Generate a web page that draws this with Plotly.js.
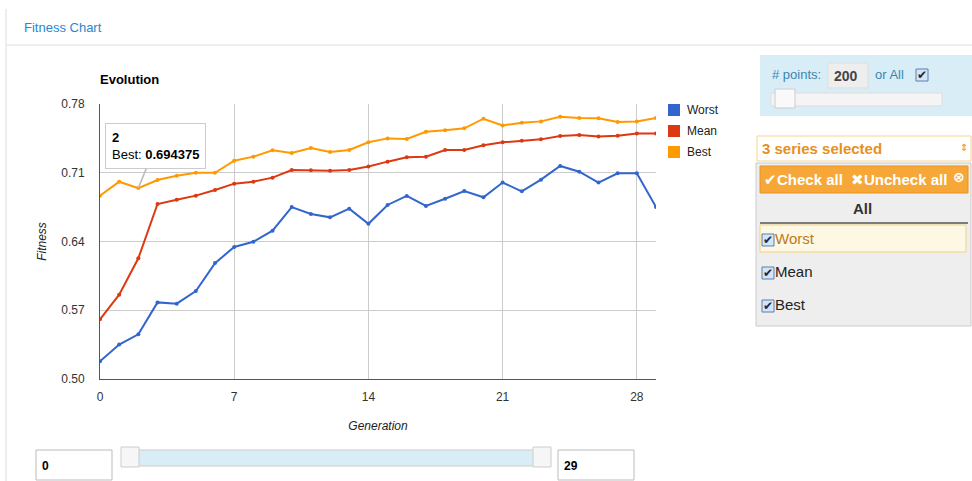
<!DOCTYPE html>
<html>
<head>
<meta charset="utf-8">
<script src="https://cdn.plot.ly/plotly-3.0.1.min.js"></script>
<style>
html,body{margin:0;padding:0;background:#fff;}
#chart{width:972px;height:481px;}
</style>
</head>
<body>
<div id="chart"></div>
<script>
// ---- data ----
const generations = [0,1,2,3,4,5,6,7,8,9,10,11,12,13,14,15,16,17,18,19,20,21,22,23,24,25,26,27,28,29];
const worst = [0.518,0.535,0.5455,0.578,0.5767,0.5896,0.618,0.6344,0.6398,0.651,0.675,0.668,0.6646,0.6734,0.658,0.6772,0.6864,0.6762,0.6835,0.6914,0.685,0.700,0.6911,0.703,0.7169,0.7111,0.700,0.7094,0.7094,0.675];
const mean = [0.5608,0.5859,0.6229,0.6782,0.6826,0.6867,0.6925,0.6989,0.7009,0.705,0.7128,0.7125,0.712,0.7128,0.7163,0.7213,0.7257,0.7264,0.7332,0.7332,0.7379,0.741,0.7427,0.744,0.7475,0.7485,0.7468,0.7478,0.750,0.750];
const best = [0.6867,0.7009,0.694375,0.7026,0.707,0.710,0.710,0.7223,0.7264,0.7328,0.7301,0.7352,0.7312,0.7332,0.741,0.745,0.7444,0.7518,0.7532,0.7552,0.765,0.7582,0.761,0.7623,0.767,0.7658,0.7655,0.7617,0.7623,0.7658];
const seriesNames = ["Worst","Mean","Best"];
const xTicks = [0,7,14,21,28];
const yTicks = [0.50,0.57,0.64,0.71,0.78];
const yTickLabels = ["0.50","0.57","0.64","0.71","0.78"];
const tipIndex = 2;
const pointsValue = "200";
const rangeLow = "0";
const rangeHigh = "29";

// ---- styling ----
const colors = ["#3366cc","#dc3912","#ff9900"];
const W = 972, H = 481;
const px = x => x / W;
const py = y => 1 - y / H;
const FONT = "Liberation Sans, Arial, sans-serif";
const UIFONT = "Liberation Sans, Arial, sans-serif";
const SYMFONT = "DejaVu Sans, sans-serif";

const seriesData = [worst, mean, best];
const traces = seriesData.map((vals, i) => ({
  type: "scatter", mode: "lines+markers",
  x: generations, y: vals, name: seriesNames[i],
  line: {color: colors[i], width: 2},
  marker: {color: colors[i], size: 4},
  showlegend: false, hoverinfo: "skip"
}));

const shapes = [];
const ann = [];
function rect(x0,y0,x1,y1,fill,line,lw){
  shapes.push({type:"rect", xref:"paper", yref:"paper", x0:px(x0), x1:px(x1), y0:py(y1), y1:py(y0),
    fillcolor:fill, line:{color:line||"rgba(0,0,0,0)", width: lw===undefined?1:lw}, layer:"above"});
}
function hline(x0,x1,y,color,w){
  shapes.push({type:"line", xref:"paper", yref:"paper", x0:px(x0), x1:px(x1), y0:py(y), y1:py(y), line:{color:color,width:w||1}, layer:"above"});
}
function vline(x,y0,y1,color,w){
  shapes.push({type:"line", xref:"paper", yref:"paper", x0:px(x), x1:px(x), y0:py(y0), y1:py(y1), line:{color:color,width:w||1}, layer:"above"});
}
function text(x,y,t,opts){
  opts = opts||{};
  ann.push({xref:"paper", yref:"paper", x:px(x), y:py(y), text:t, showarrow:false,
    xanchor:opts.xanchor||"left", yanchor:"middle",
    font:{family:opts.family||FONT, size:opts.size||12, color:opts.color||"#222"}});
}
function checkbox(x,y){
  rect(x, y-6, x+12, y+6, "#d5e4f7", "#5a7fb0", 1);
  text(x+6, y, "✔", {xanchor:"center", size:12, color:"#1a2a44", family:SYMFONT});
}

// page frame
vline(6, 9, 481, "#dddddd", 1);
hline(6, 972, 45, "#eeeeee", 2);
text(22, 27, "Fitness Chart", {color:"#2a87cc", size:13});

// custom legend
seriesNames.forEach((n,i) => {
  const cy = 110 + i*21;
  rect(668, cy-6, 680, cy+6, colors[i], colors[i], 0);
  text(685, cy, n, {size:12, color:"#222"});
});

// tooltip
ann.push({xref:"x", yref:"y", x: generations[tipIndex], y: best[tipIndex],
  text: "<b>" + generations[tipIndex] + "</b><br>Best: <b>" + best[tipIndex] + "</b>",
  showarrow:true, arrowhead:0, arrowcolor:"#bbbbbb", arrowwidth:1.5, ax:17, ay:-42,
  align:"left", bgcolor:"#ffffff", bordercolor:"#cccccc", borderwidth:1, borderpad:6,
  font:{family:FONT, size:13, color:"#000"}, xanchor:"center", yanchor:"middle"});

// bottom range controls
rect(36, 450, 112, 480, "#ffffff", "#bbbbbb", 1);
text(40, 466, "<b>" + rangeLow + "</b>", {size:12, color:"#000"});
rect(122, 450, 550, 466, "#d9edf7", "#cccccc", 1);
rect(121, 447, 139, 467, "#f6f6f6", "#cccccc", 1);
rect(533, 447, 551, 467, "#f6f6f6", "#cccccc", 1);
rect(558, 450, 634, 480, "#ffffff", "#bbbbbb", 1);
text(562, 466, "<b>" + rangeHigh + "</b>", {size:12, color:"#000"});

// right panel: points box
rect(760, 55, 972, 116, "#d9edf7", "#d9edf7", 0);
text(770, 74, "# points:", {color:"#3a87ad", size:13, family:UIFONT});
rect(828, 63, 868, 88, "#eeeeee", "#dddddd", 1);
text(832, 76, "<b>" + pointsValue + "</b>", {color:"#444", size:14, family:UIFONT});
text(873, 74, "or All", {color:"#3a87ad", size:13, family:UIFONT});
checkbox(916, 75);
rect(771, 93, 942, 106, "#f4f4f4", "#dddddd", 1);
rect(775, 89, 795, 108, "#f9f9f9", "#cccccc", 1);

// multiselect
rect(757, 136, 971, 161, "#ffffff", "#f7d490", 1);
text(760, 148, "<b>" + seriesNames.length + " series selected</b>", {color:"#e8901a", size:15, family:UIFONT});
text(964, 147, "⇕", {color:"#e8901a", size:10, xanchor:"center", family:SYMFONT});
rect(756, 163, 971, 326, "#eeeeee", "#cccccc", 1);
rect(760, 166, 968, 193, "#f7a738", "#e69420", 1);
text(762, 179, "✔<b>Check all</b>", {color:"#ffffff", size:15, family:UIFONT});
text(849, 179, "✖<b>Uncheck all</b>", {color:"#ffffff", size:15, family:UIFONT});
text(959, 177, "<b>⊗</b>", {color:"#ffffff", size:14, xanchor:"center", family:SYMFONT});
text(862, 209, "<b>All</b>", {color:"#333", size:15, xanchor:"center", family:UIFONT});
hline(760, 968, 223, "#555555", 1.5);
rect(760, 225, 966, 252, "#fcf8e3", "#f5d37f", 1);
const rowY = [238, 271, 304];
seriesNames.forEach((n,i) => {
  checkbox(762, rowY[i] + 2);
  text(773, rowY[i], n, {color: i===0 ? "#c07820" : "#222", size:15, family:UIFONT});
});

const layout = {
  width: W, height: H,
  margin: {l:0, r:0, t:0, b:0},
  paper_bgcolor: "#ffffff", plot_bgcolor: "#ffffff",
  font: {family: FONT, size: 12, color: "#333"},
  title: {text: "<b>Evolution</b>", xref:"paper", x: px(100), xanchor:"left", yref:"paper", y: py(79), yanchor:"middle",
          font:{family:FONT, size:13, color:"#000"}},
  xaxis: {
    domain: [px(100), px(656)], range: [0, 29], tickvals: xTicks,
    showgrid: true, gridcolor: "#cccccc", zeroline: false,
    showline: true, linecolor: "#555555", linewidth: 1,
    ticks: "outside", ticklen: 7, tickcolor: "rgba(0,0,0,0)",
    tickfont: {family: FONT, size: 12, color: "#333"},
    title: {text: "<i>Generation</i>", standoff: 18, font:{family:FONT, size:12, color:"#222"}},
    fixedrange: true
  },
  yaxis: {
    domain: [py(379), py(104)], range: [0.50, 0.78], tickvals: yTicks, ticktext: yTickLabels,
    showgrid: true, gridcolor: "#cccccc", zeroline: false,
    showline: true, linecolor: "#555555", linewidth: 1,
    ticks: "outside", ticklen: 12, tickcolor: "rgba(0,0,0,0)",
    tickfont: {family: FONT, size: 12, color: "#333"},
    title: {text: "<i>Fitness</i>", standoff: 12, font:{family:FONT, size:12, color:"#222"}},
    fixedrange: true
  },
  shapes: shapes,
  annotations: ann,
  showlegend: false
};

Plotly.newPlot("chart", traces, layout, {displayModeBar:false, staticPlot:true});
</script>
</body>
</html>
